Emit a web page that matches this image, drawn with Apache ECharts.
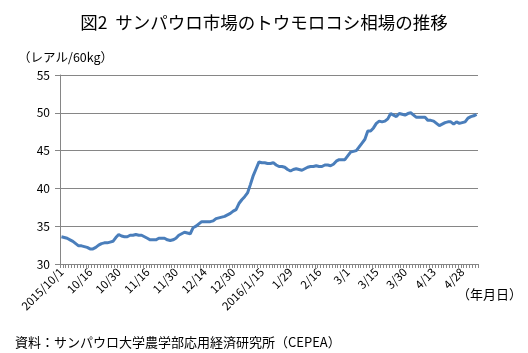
<!DOCTYPE html>
<html>
<head>
<meta charset="utf-8">
<script src="https://cdn.jsdelivr.net/npm/echarts@6/dist/echarts.min.js"></script>
<style>
  html, body { margin: 0; padding: 0; background: #fff; }
  #chart { width: 528px; height: 353px; }
</style>
</head>
<body>
<div id="chart"></div>
<script>
// x軸ラベル（10営業日ごと）
const tickLabels = ['2015/10/1', '10/16', '10/30', '11/16', '11/30', '12/14', '12/30',
  '2016/1/15', '1/29', '2/16', '3/1', '3/15', '3/30', '4/13', '4/28']
// トウモロコシ相場（レアル/60kg）
const prices = [
  33.6, 33.5, 33.4, 33.2, 33.0, 32.7, 32.4, 32.4, 32.3, 32.2,
  32.0, 32.0, 32.2, 32.5, 32.7, 32.8, 32.8, 32.9, 33.0, 33.5,
  33.9, 33.7, 33.6, 33.6, 33.8, 33.8, 33.9, 33.8, 33.8, 33.6,
  33.4, 33.2, 33.2, 33.2, 33.4, 33.4, 33.4, 33.2, 33.1, 33.2,
  33.4, 33.8, 34.0, 34.2, 34.1, 34.0, 34.8, 35.0, 35.3, 35.6,
  35.6, 35.6, 35.6, 35.7, 36.0, 36.1, 36.2, 36.3, 36.5, 36.7,
  37.0, 37.2, 38.0, 38.5, 38.9, 39.4, 40.5, 41.7, 42.6, 43.5,
  43.4, 43.4, 43.3, 43.3, 43.4, 43.1, 42.9, 42.9, 42.8, 42.5,
  42.3, 42.5, 42.6, 42.5, 42.4, 42.6, 42.8, 42.9, 42.9, 43.0,
  42.9, 42.9, 43.1, 43.1, 43.0, 43.2, 43.6, 43.8, 43.8, 43.8,
  44.3, 44.8, 44.9, 45.0, 45.5, 46.0, 46.5, 47.6, 47.6, 48.0,
  48.6, 48.9, 48.8, 48.9, 49.2, 49.9, 49.7, 49.5, 49.9, 49.8,
  49.7, 49.9, 50.0, 49.7, 49.4, 49.4, 49.4, 49.4, 49.0, 49.0,
  48.9, 48.6, 48.3, 48.5, 48.7, 48.8, 48.8, 48.5, 48.8, 48.6,
  48.7, 48.8, 49.3, 49.5, 49.6, 49.8
]
const yTicks = [30, 35, 40, 45, 50, 55]

const categories = prices.map((v, i) => String(i))
const fontJP = '"Noto Sans CJK JP", sans-serif'
const gridColor = '#868686'
const lineColor = '#4a7ebb'

const chart = echarts.init(document.getElementById('chart'))
chart.setOption({
  animation: false,
  textStyle: { fontFamily: fontJP },
  title: [
    {
      text: '図2  サンパウロ市場のトウモロコシ相場の推移',
      left: 'center',
      top: 9,
      textStyle: { fontFamily: fontJP, fontSize: 17.5, fontWeight: 'normal', color: '#000' }
    },
    {
      text: '（レアル/60kg）',
      left: 13,
      top: 46,
      textStyle: { fontFamily: fontJP, fontSize: 12.5, fontWeight: 'normal', color: '#000' }
    },
    {
      text: '（年月日）',
      left: 452,
      top: 283,
      textStyle: { fontFamily: fontJP, fontSize: 13, fontWeight: 'normal', color: '#000' }
    },
    {
      text: '資料：サンパウロ大学農学部応用経済研究所（CEPEA）',
      left: 10,
      top: 331,
      textStyle: { fontFamily: fontJP, fontSize: 13, fontWeight: 'normal', color: '#000' }
    }
  ],
  grid: { left: 60, right: 50, top: 75, bottom: 89 },
  xAxis: {
    type: 'category',
    data: categories,
    boundaryGap: true,
    axisLine: { lineStyle: { color: gridColor, width: 1 } },
    axisTick: { show: true, interval: 0, length: 4, lineStyle: { color: gridColor } },
    axisLabel: {
      interval: (idx) => idx % 10 === 0,
      rotate: 45,
      margin: 6,
      fontSize: 11.5,
      color: '#000',
      fontFamily: fontJP,
      formatter: (v, idx) => tickLabels[idx / 10] || ''
    },
    splitLine: { show: false }
  },
  yAxis: {
    type: 'value',
    min: yTicks[0],
    max: yTicks[yTicks.length - 1],
    interval: 5,
    axisLine: { show: true, lineStyle: { color: gridColor } },
    axisTick: { show: true, length: 5, lineStyle: { color: gridColor } },
    axisLabel: { fontSize: 12, color: '#000', margin: 10, fontFamily: fontJP },
    splitLine: { lineStyle: { color: gridColor, width: 1 } }
  },
  series: [{
    type: 'line',
    data: prices,
    symbol: 'none',
    smooth: false,
    lineStyle: { color: lineColor, width: 3 }
  }]
})
</script>
</body>
</html>
